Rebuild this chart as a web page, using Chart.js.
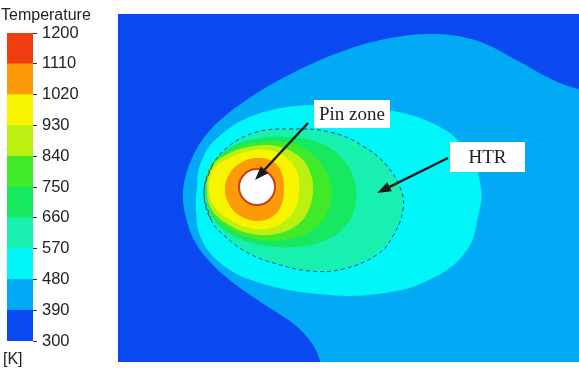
<!DOCTYPE html>
<html>
<head>
<meta charset="utf-8">
<script src="https://cdn.jsdelivr.net/npm/chart.js@4.4.1/dist/chart.umd.min.js"></script>
<style>
    html, body { margin: 0; padding: 0; background: #fff; }
    #wrap { position: relative; width: 579px; height: 371px; overflow: hidden; }
    #legendChart { position: absolute; left: 0; top: 0; }
    #fieldChart { position: absolute; left: 118px; top: 14px; }
</style>
</head>
<body>
<div id="wrap">
    <canvas id="legendChart" width="115" height="371"></canvas>
    <canvas id="fieldChart" width="461" height="348"></canvas>
</div>
<script>
// Temperature levels [K] and band colours (band i runs from level i to level i+1)
const bandLevels = [300, 390, 480, 570, 660, 750, 840, 930, 1020, 1110, 1200];
const bandColors = ["#0a48f0", "#02aaf6", "#00f6f8", "#18f0b0", "#16e860",
                    "#40ea28", "#bcf010", "#f8f400", "#fc9a08", "#f03c10"];

// Contour outlines, in mm (domain 46.1 x 34.8)
// each one encloses the zone hotter than the named level
const above300 = [[0, 0], [46.1, 0], [46.1, 34.8], [0, 34.8]];
const above390 = [[52.2, 26.7], [46.1, 27.3], [43.3, 28.3], [40.0, 30.1], [36.0, 32.1], [31.7, 32.8],
                  [26.7, 32.3], [21.7, 30.8], [16.7, 28.5], [12.7, 26.1], [9.4, 23.4], [7.4, 20.4],
                  [6.5, 17.2], [6.8, 14.4], [7.7, 12.0], [9.2, 10.0], [11.4, 8.0], [14.4, 5.9],
                  [17.7, 3.7], [19.5, 1.7], [20.2, 0.0], [20.4, -3.8], [52.2, -3.8]];
const above480 = [[7.9, 17.5], [8.2, 19.7], [9.7, 22.2], [13.7, 24.7], [19.7, 25.7], [27.0, 25.2],
                  [32.2, 23.5], [34.9, 21.0], [36.3, 17.5], [36.0, 14.5], [34.9, 11.2], [31.7, 8.5],
                  [26.7, 6.9], [20.0, 6.8], [13.3, 8.2], [10.0, 10.1], [8.3, 12.4], [7.8, 15.0]];
const above570 = [[8.7, 16.9], [9.5, 19.5], [11.2, 21.5], [13.9, 22.9], [17.2, 23.2], [21.2, 22.9],
                  [24.5, 21.5], [26.9, 19.5], [28.2, 17.2], [28.4, 15.2], [27.5, 12.9], [25.9, 10.9],
                  [22.5, 9.4], [19.2, 9.2], [15.9, 9.9], [13.2, 10.9], [10.9, 12.5], [9.4, 14.2]];
const above660 = [[8.8, 17.2], [9.3, 19.6], [11.0, 21.3], [13.7, 22.3], [17.2, 22.5], [20.4, 21.8],
                  [22.5, 20.3], [23.6, 18.2], [23.8, 16.0], [22.9, 13.8], [20.8, 12.2], [17.7, 11.5],
                  [14.4, 11.7], [11.6, 12.6], [9.6, 14.3]];
const above750 = [[8.85, 17.3], [9.2, 19.5], [11.0, 21.0], [13.7, 21.9], [16.7, 22.0], [19.0, 21.1],
                  [20.6, 19.4], [21.4, 17.2], [20.9, 14.9], [19.3, 13.1], [16.6, 12.2], [13.8, 12.3],
                  [11.2, 13.3], [9.3, 15.0]];
const above840 = [[8.9, 17.3], [9.3, 19.4], [11.0, 20.8], [13.7, 21.6], [16.2, 21.5], [18.2, 20.5],
                  [19.2, 19.0], [19.5, 17.2], [19.1, 15.3], [17.9, 13.7], [15.8, 12.8], [13.4, 12.8],
                  [11.1, 13.7], [9.4, 15.2]];
const above930 = [[9.1, 17.3], [9.6, 19.3], [11.4, 20.5], [13.8, 21.2], [15.8, 21.0], [17.3, 20.0],
                  [18.0, 18.7], [18.1, 17.2], [17.8, 15.5], [16.8, 14.2], [15.2, 13.4], [13.2, 13.4],
                  [11.2, 14.2], [9.7, 15.5]];
const above1020 = [[10.7, 17.3], [11.2, 18.9], [12.4, 20.0], [13.9, 20.4], [15.4, 20.1], [16.3, 19.1],
                   [16.6, 17.3], [16.3, 15.6], [15.4, 14.5], [13.9, 14.1], [12.4, 14.5], [11.2, 15.6]];
const above1110 = [[12.0, 17.5], [12.56, 18.84], [13.9, 19.4], [15.24, 18.84], [15.8, 17.5],
                   [15.24, 16.16], [13.9, 15.6], [12.56, 16.16]];
const pinHole = [[12.2, 17.5], [12.7, 18.7], [13.9, 19.2], [15.1, 18.7], [15.6, 17.5],
                 [15.1, 16.3], [13.9, 15.8], [12.7, 16.3]];
const htrBoundary = [[8.6, 17.0], [9.4, 19.6], [11.1, 21.6], [13.9, 23.0], [17.2, 23.3], [21.2, 23.0],
                     [24.5, 21.6], [26.9, 19.6], [28.3, 17.2], [28.5, 15.2], [27.6, 12.8], [26.0, 10.8],
                     [22.5, 9.3], [19.2, 9.1], [15.9, 9.8], [13.2, 10.8], [10.9, 12.4], [9.3, 14.2]];

// Callouts: label, box centre and size (mm), arrow tail and tip (mm)
const calloutLabels = ["Pin zone", "HTR"];
const calloutBoxes = [[23.4, 24.8, 7.6, 2.8], [36.95, 20.5, 7.5, 3.0]];
const calloutArrows = [[19.0, 23.9, 13.7, 18.2], [33.0, 20.4, 25.9, 16.9]];

const fieldRegions = [
    { points: above300, color: bandColors[0], tension: 0 },
    { points: above390, color: bandColors[1], tension: 0.35 },
    { points: above480, color: bandColors[2], tension: 0.4 },
    { points: above570, color: bandColors[3], tension: 0.4 },
    { points: above660, color: bandColors[4], tension: 0.4 },
    { points: above750, color: bandColors[5], tension: 0.4 },
    { points: above840, color: bandColors[6], tension: 0.4 },
    { points: above930, color: bandColors[7], tension: 0.4 },
    { points: above1020, color: bandColors[8], tension: 0.4 },
    { points: above1110, color: "#c8401c", tension: 0.4 },
    { points: pinHole, color: "#ffffff", tension: 0.4 }
];

// wrap a closed outline so the spline runs smoothly through its first point
function closeLoop(points, wrap) {
    const pts = wrap ? [points[points.length - 1], ...points, points[0], points[1]] : [...points, points[0]];
    return pts.map(p => ({ x: p[0], y: p[1] }));
}

// Colour bar titles
const legendText = {
    id: "legendText",
    afterDraw(chart) {
        const { ctx, chartArea } = chart;
        ctx.save();
        ctx.fillStyle = "#222";
        ctx.font = "16px 'Liberation Sans', Arial, sans-serif";
        ctx.textBaseline = "middle";
        ctx.fillText("Temperature", 1, chartArea.top - 17);
        ctx.fillText("[K]", 3, chartArea.bottom + 19);
        ctx.restore();
    }
};

// Arrows and labelled boxes on the field
const callouts = {
    id: "callouts",
    afterDatasetsDraw(chart) {
        const { ctx, scales: { x, y } } = chart;
        ctx.save();
        ctx.strokeStyle = "#1a1a1a";
        ctx.fillStyle = "#1a1a1a";
        ctx.lineWidth = 2.4;
        calloutArrows.forEach(a => {
            const x0 = x.getPixelForValue(a[0]), y0 = y.getPixelForValue(a[1]);
            const x1 = x.getPixelForValue(a[2]), y1 = y.getPixelForValue(a[3]);
            const ang = Math.atan2(y1 - y0, x1 - x0);
            const head = 14, half = 5;
            const bx = x1 - head * Math.cos(ang), by = y1 - head * Math.sin(ang);
            ctx.beginPath();
            ctx.moveTo(x0, y0);
            ctx.lineTo(bx, by);
            ctx.stroke();
            ctx.beginPath();
            ctx.moveTo(x1, y1);
            ctx.lineTo(bx + half * Math.sin(ang), by - half * Math.cos(ang));
            ctx.lineTo(bx - half * Math.sin(ang), by + half * Math.cos(ang));
            ctx.closePath();
            ctx.fill();
        });
        ctx.font = "19px 'Liberation Serif', 'Times New Roman', serif";
        ctx.textAlign = "center";
        ctx.textBaseline = "middle";
        calloutBoxes.forEach((b, i) => {
            const left = x.getPixelForValue(b[0] - b[2] / 2), right = x.getPixelForValue(b[0] + b[2] / 2);
            const top = y.getPixelForValue(b[1] + b[3] / 2), bottom = y.getPixelForValue(b[1] - b[3] / 2);
            ctx.fillStyle = "#ffffff";
            ctx.fillRect(left, top, right - left, bottom - top);
            ctx.fillStyle = "#222";
            ctx.fillText(calloutLabels[i], (left + right) / 2, (top + bottom) / 2 + 1);
        });
        ctx.restore();
    }
};

// Colour bar
function drawLegend() {
    const datasets = bandColors.map((color, i) => ({
        data: [[bandLevels[i], bandLevels[i + 1]]],
        backgroundColor: color,
        borderWidth: 0,
        grouped: false,
        barPercentage: 1,
        categoryPercentage: 1
    }));
    new Chart(document.getElementById("legendChart"), {
        type: "bar",
        data: { labels: ["T"], datasets },
        options: {
            responsive: false,
            animation: false,
            layout: { padding: { left: 7, right: 7, top: 33, bottom: 30 } },
            plugins: { legend: { display: false }, tooltip: { enabled: false } },
            scales: {
                x: { display: false },
                y: {
                    position: "right",
                    min: 300,
                    max: 1200,
                    afterFit: s => { s.width = 75; },
                    afterBuildTicks: s => { s.ticks = bandLevels.map(v => ({ value: v })); },
                    ticks: {
                        color: "#222",
                        padding: 5,
                        font: { family: "'Liberation Sans', Arial, sans-serif", size: 16.5 },
                        callback: v => String(v)
                    },
                    grid: { drawOnChartArea: false, drawTicks: true, tickLength: 4, color: "#333" },
                    border: { display: false }
                }
            }
        },
        plugins: [legendText]
    });
}

// Temperature field
function drawField() {
    const n = fieldRegions.length;
    const datasets = fieldRegions.map((r, i) => ({
        data: closeLoop(r.points, r.tension > 0),
        showLine: true,
        pointRadius: 0,
        borderWidth: 0,
        backgroundColor: r.color,
        fill: "shape",
        tension: r.tension,
        order: n - i + 1
    }));
    datasets.push({
        data: closeLoop(htrBoundary, true),
        showLine: true,
        pointRadius: 0,
        borderWidth: 1,
        borderColor: "#3a4848",
        borderDash: [4, 3],
        fill: false,
        tension: 0.4,
        order: 0
    });
    new Chart(document.getElementById("fieldChart"), {
        type: "scatter",
        data: { datasets },
        options: {
            responsive: false,
            animation: false,
            layout: { padding: 0 },
            elements: { line: { capBezierPoints: false } },
            plugins: { legend: { display: false }, tooltip: { enabled: false } },
            scales: {
                x: { type: "linear", min: 0, max: 46.1, display: false },
                y: { type: "linear", min: 0, max: 34.8, display: false }
            }
        },
        plugins: [callouts]
    });
}

drawLegend();
drawField();
</script>
</body>
</html>
